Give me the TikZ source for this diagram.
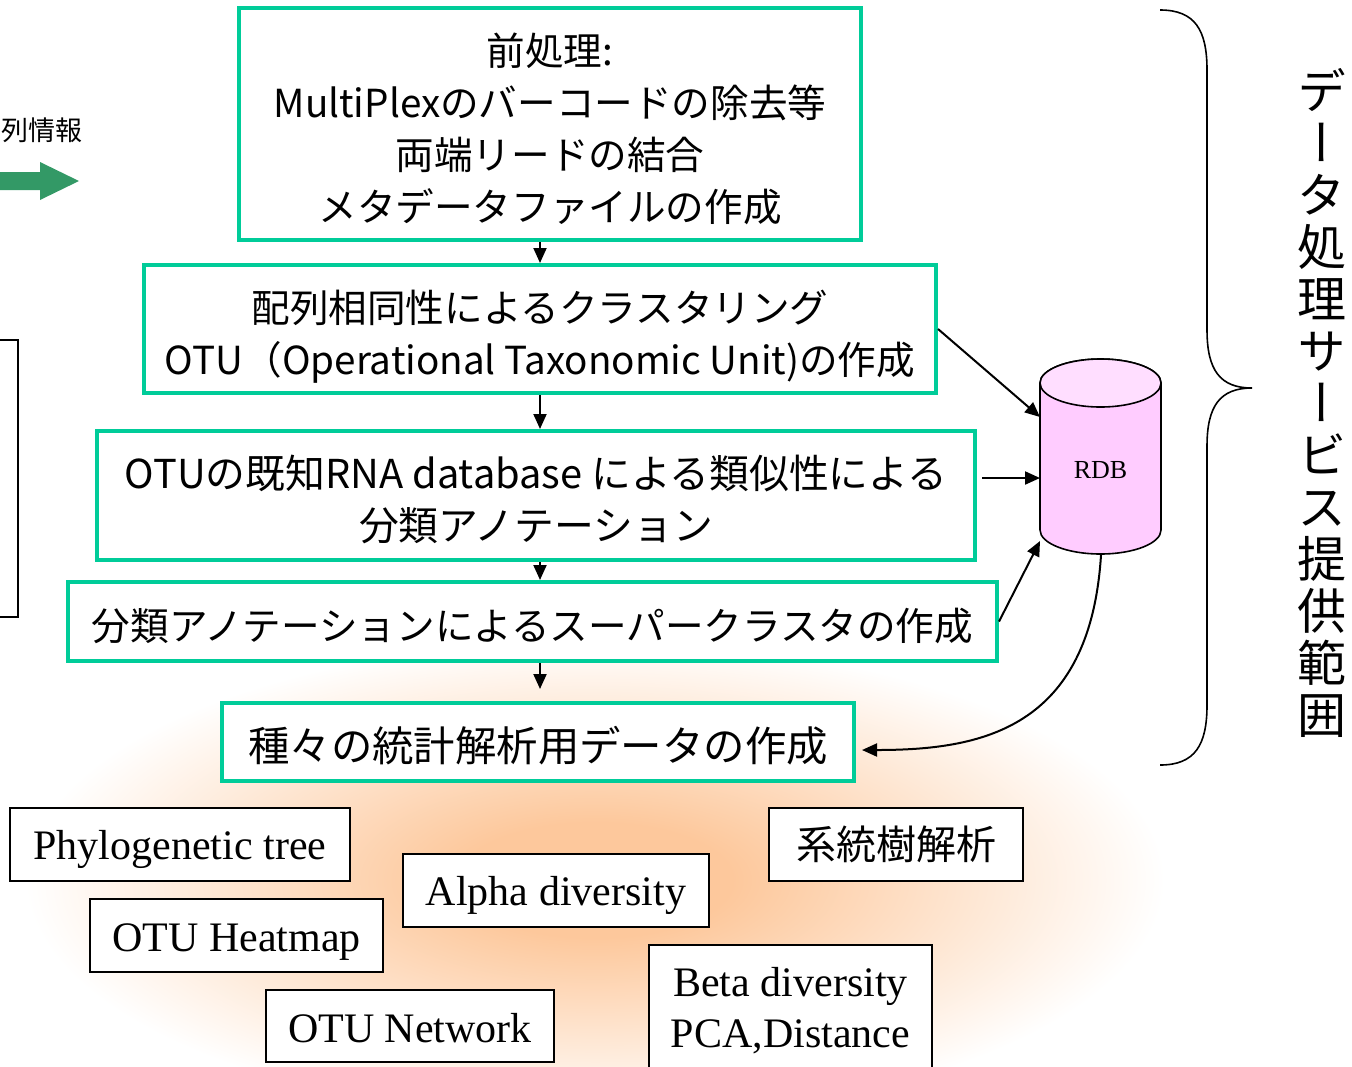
\documentclass[tikz,border=0pt]{standalone}
\usepackage{fontspec}
\newfontfamily\jp{Noto Sans CJK JP}
\newfontfamily\vjp[RawFeature=+vert]{Noto Sans CJK JP}
\newfontfamily\tnr{Liberation Serif}
\usetikzlibrary{arrows.meta}
\definecolor{gc}{RGB}{0,204,153}
\definecolor{garr}{RGB}{51,153,102}
\definecolor{pinkbody}{RGB}{255,204,255}
\definecolor{pinktop}{RGB}{255,222,255}
\definecolor{glowc}{RGB}{253,200,156}
\pgfdeclareradialshading{glow}{\pgfpoint{0bp}{0bp}}{color(0bp)=(glowc); color(6bp)=(glowc); color(25bp)=(white); color(50bp)=(white)}
\newcommand{\gtxt}[1]{\raisebox{-4.3pt}[\height][\depth]{\begin{tabular}{@{}c@{}}#1\end{tabular}}}
\newcommand{\low}[2]{\raisebox{-#1}[\height][\depth]{#2}}
\tikzset{
  gbox/.style={draw=gc, line width=2pt, fill=white, inner sep=0pt, align=center, font=\jp\fontsize{19.3}{26}\selectfont},
  wbox/.style={draw=black, line width=0.8pt, fill=white, inner sep=0pt, align=center, font=\tnr\fontsize{21}{25.5}\selectfont},
  arr/.style={line width=1pt, -{Triangle[length=7.5pt,width=6.5pt]}}
}
\begin{document}
\begin{tikzpicture}[x=0.5pt,y=-0.5pt]
\useasboundingbox (0,0) rectangle (1352,1066);
% glow
\shade[shading=glow] (595,880) ellipse [x radius=285pt, y radius=120pt];
% left fragments
\node[anchor=east, inner sep=0pt, font=\jp\fontsize{13.5}{16}\selectfont] (seqinfo) at (83,130) {列情報};
\fill[garr] (-5,172) -- (40,172) -- (40,162) -- (79,181) -- (40,200) -- (40,190) -- (-5,190) -- cycle;
\draw[line width=0.8pt] (-20,340) rectangle (18,617);
% green boxes
\node[gbox, minimum width=311pt, minimum height=116pt] (b1) at (550,124)
  {\gtxt{前処理:\\MultiPlexのバーコードの除去等\\両端リードの結合\\メタデータファイルの作成}};
\node[gbox, minimum width=396pt, minimum height=64pt] (b2) at (540,329)
  {\gtxt{配列相同性によるクラスタリング\\OTU（Operational Taxonomic Unit)の作成}};
\node[gbox, minimum width=439pt, minimum height=64.5pt, font=\jp\fontsize{19.9}{26}\selectfont] (b3) at (536,495.5)
  {\gtxt{OTUの既知RNA database による類似性による\\分類アノテーション}};
\node[gbox, minimum width=464.5pt, minimum height=39.5pt] (b4) at (532.5,621.5)
  {\gtxt{分類アノテーションによるスーパークラスタの作成}};
\node[gbox, minimum width=316pt, minimum height=39pt, font=\jp\fontsize{20.7}{26}\selectfont] (b5) at (538,742)
  {\gtxt{種々の統計解析用データの作成}};
% flow arrows
\draw[arr] (b1.south -| b2.north) -- (b2.north);
\draw[arr] (b2.south) -- (b2.south |- b3.north);
\draw[arr] (b3.south -| b2.south) -- (b2.south |- b4.north);
\draw[arr, shorten >=6pt] (b4.south -| b2.south) -- (b2.south |- b5.north);
% RDB cylinder
\filldraw[fill=pinkbody, line width=0.8pt] (1040,383) -- (1040,530) arc[start angle=180, end angle=360, x radius=30.25pt, y radius=12pt] -- (1161,383) arc[start angle=0, end angle=180, x radius=30.25pt, y radius=12pt] -- cycle;
\filldraw[fill=pinktop, line width=0.8pt] (1100.5,383) ellipse [x radius=30.25pt, y radius=12pt];
\node[font=\tnr\fontsize{13}{15}\selectfont, inner sep=0pt] (rdb) at (1100.5,470) {RDB};
\coordinate (rdbA) at (1040,417);
\coordinate (rdbB) at (1040,478);
\coordinate (rdbC) at (1040,541);
\coordinate (rdbD) at (1101,555);
\draw[arr] (b2.east) -- (rdbA);
\draw[arr, shorten <=2.5pt] (b3.east |- rdbB) -- (rdbB);
\draw[arr] (b4.east) -- (rdbC);
\draw[arr] (rdbD) .. controls (1090,730) and (980,750) .. ([xshift=3pt,yshift=-4pt]b5.east);
% brace
\draw[line width=0.8pt] (1160,10) .. controls (1195,10) and (1207,30) .. (1207,70) -- (1207,330) .. controls (1207,370) and (1220,388) .. (1252,388) .. controls (1220,388) and (1207,406) .. (1207,446) -- (1207,705) .. controls (1207,745) and (1195,765) .. (1160,765);
\node[inner sep=0pt, align=center, font=\vjp\fontsize{24.5}{26}\selectfont] (scope) at (1322,403)
  {デ\\ー\\タ\\処\\理\\サ\\ー\\ビ\\ス\\提\\供\\範\\囲};
% bottom boxes
\node[wbox, minimum width=170pt, minimum height=36.5pt] (phy) at (180,844.5) {\low{2.5pt}{Phylogenetic tree}};
\node[wbox, minimum width=153pt, minimum height=36.5pt] (alpha) at (556,890.5) {\low{2.5pt}{Alpha diversity}};
\node[wbox, minimum width=127pt, minimum height=36.5pt, font=\jp\fontsize{20}{25}\selectfont] (kei) at (896,844.5) {系統樹解析};
\node[wbox, minimum width=146.5pt, minimum height=36.5pt] (heat) at (236.5,935.5) {\low{3.5pt}{OTU Heatmap}};
\node[wbox, minimum width=144pt, minimum height=36pt] (net) at (410,1026) {\low{1pt}{OTU Network}};
\node[wbox, minimum width=141.5pt, minimum height=68pt, anchor=north] (beta) at (790.5,944) {};
\node[font=\tnr\fontsize{21}{25.5}\selectfont, align=center, inner sep=0pt] (betatxt) at (790.5,1010.5) {Beta diversity\\PCA,Distance};
\end{tikzpicture}
\end{document}
